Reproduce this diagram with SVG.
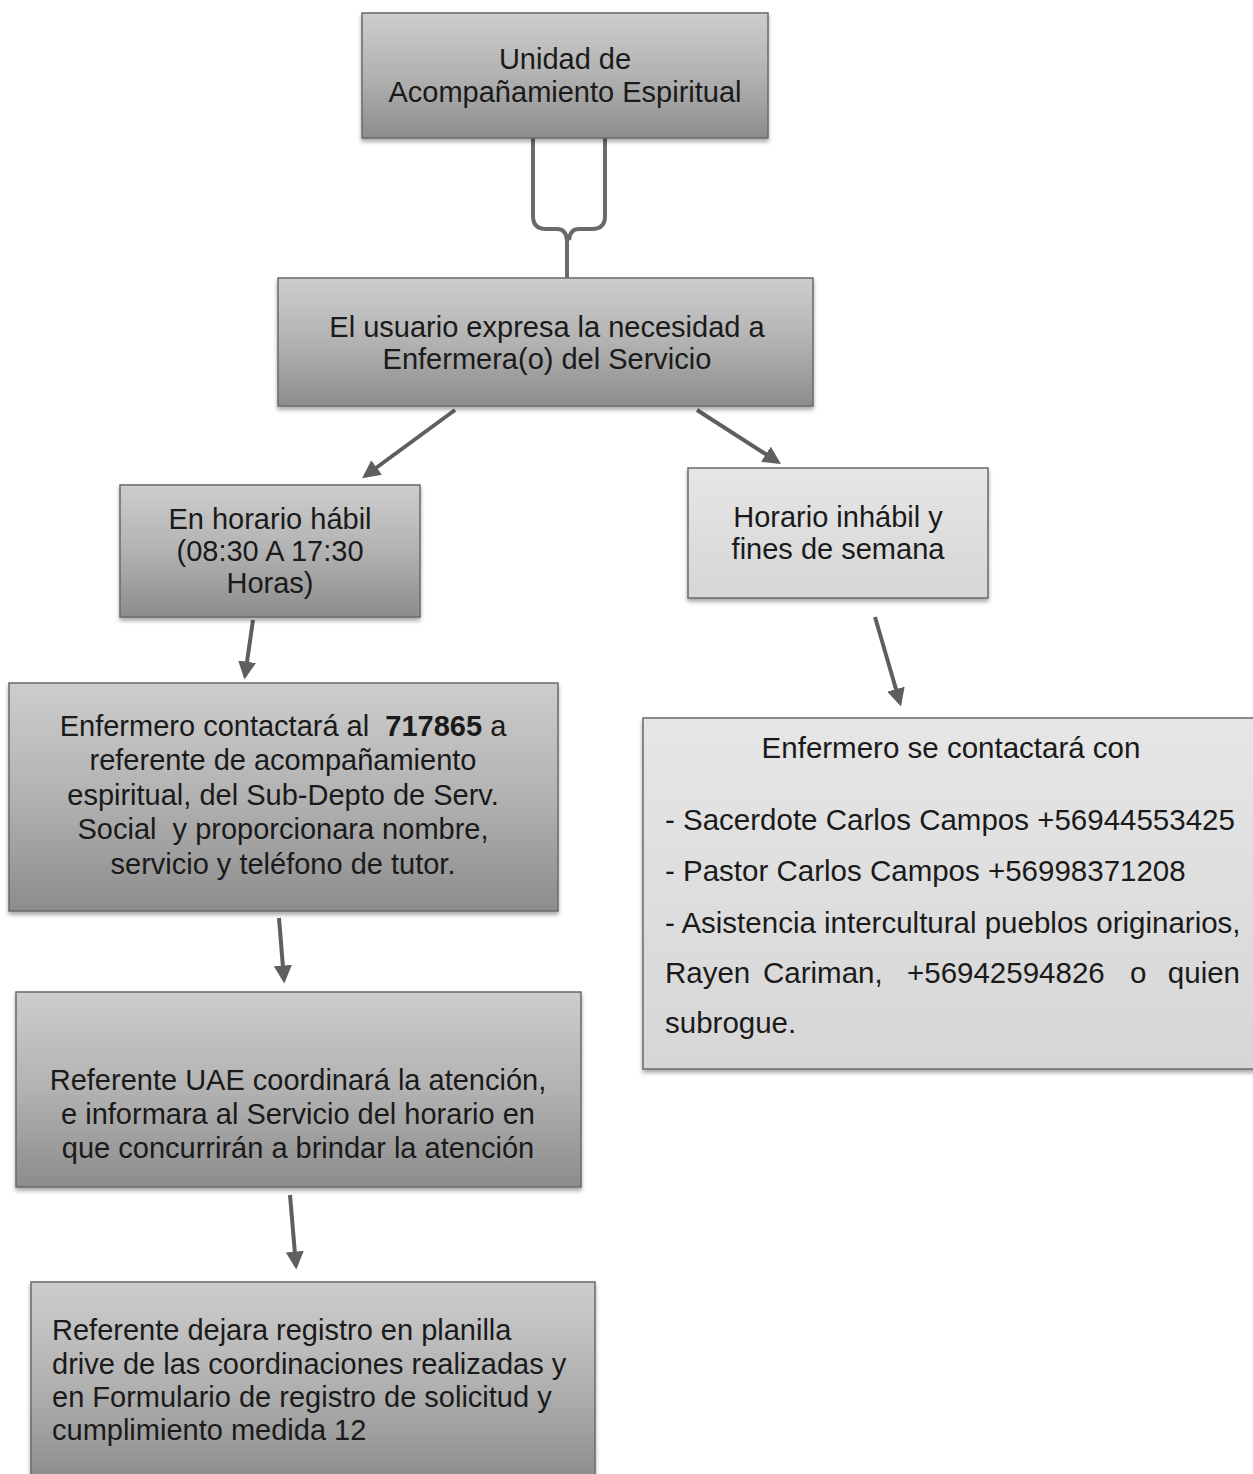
<svg xmlns="http://www.w3.org/2000/svg" width="1253" height="1474" viewBox="0 0 1253 1474">
<defs>
<linearGradient id="dark" x1="0" y1="0" x2="0" y2="1">
<stop offset="0" stop-color="#cdcdcd"/>
<stop offset="0.5" stop-color="#b2b2b2"/>
<stop offset="1" stop-color="#8c8c8c"/>
</linearGradient>
<linearGradient id="light" x1="0" y1="0" x2="0" y2="1">
<stop offset="0" stop-color="#e6e6e6"/>
<stop offset="1" stop-color="#d6d6d6"/>
</linearGradient>
<filter id="sh" x="-5%" y="-5%" width="110%" height="115%">
<feDropShadow dx="0" dy="3" stdDeviation="2" flood-color="#000" flood-opacity="0.35"/>
</filter>
<marker id="ah" viewBox="0 0 10 10" refX="8" refY="5" markerWidth="4.5" markerHeight="4.5" orient="auto" markerUnits="strokeWidth">
<path d="M0,0 L10,5 L0,10 Z" fill="#5f5f5f"/>
</marker>
<style>
.bd{fill:url(#dark);stroke:#6a6a6a;stroke-width:1.5;filter:url(#sh)}
.bl{fill:url(#light);stroke:#6a6a6a;stroke-width:1.5;filter:url(#sh)}
text{font-family:"Liberation Sans",Arial,sans-serif;font-size:29px;fill:#1a1a1a}
.c{text-anchor:middle}
.r{font-size:29.5px}
.e{stroke:#5f5f5f;stroke-width:4;fill:none;marker-end:url(#ah)}
.br{stroke:#6a6a6a;stroke-width:4;fill:none}
</style>
</defs>
<rect width="1253" height="1474" fill="#ffffff"/>
<g id="connectors">
<path class="br" d="M533,138 V216 Q533,229 546,229 H557 Q566,229 567,240 V278 M605,138 V216 Q605,229 592,229 H579 Q570,229 569,240"/>
<path class="e" d="M455,410 L365,476"/>
<path class="e" d="M697,410 L778,462"/>
<path class="e" d="M253,620 L245,676"/>
<path class="e" d="M875,617 L900,703"/>
<path class="e" d="M279,918 L284,980"/>
<path class="e" d="M290,1195 L296,1266"/>
</g>
<g id="n1">
<rect class="bd" x="362" y="13" width="406" height="125"/>
<text class="c" x="565" y="69">Unidad de</text>
<text class="c" x="565" y="102">Acompañamiento Espiritual</text>
</g>
<g id="n2">
<rect class="bd" x="278" y="278" width="535" height="128"/>
<text class="c" x="547" y="337">El usuario expresa la necesidad a</text>
<text class="c" x="547" y="369">Enfermera(o) del Servicio</text>
</g>
<g id="n3">
<rect class="bd" x="120" y="485" width="300" height="132"/>
<text class="c" x="270" y="529">En horario hábil</text>
<text class="c" x="270" y="561">(08:30 A 17:30</text>
<text class="c" x="270" y="593">Horas)</text>
</g>
<g id="n4">
<rect class="bl" x="688" y="468" width="300" height="130"/>
<text class="c" x="838" y="527">Horario inhábil y</text>
<text class="c" x="838" y="559">fines de semana</text>
</g>
<g id="n5">
<rect class="bd" x="9" y="683" width="549" height="228"/>
<text class="c" x="283" y="736">Enfermero contactará al&#160; <tspan font-weight="bold">717865</tspan> a</text>
<text class="c" x="283" y="770">referente de acompañamiento</text>
<text class="c" x="283" y="805">espiritual, del Sub-Depto de Serv.</text>
<text class="c" x="283" y="839">Social&#160; y proporcionara nombre,</text>
<text class="c" x="283" y="874">servicio y teléfono de tutor.</text>
</g>
<g id="n6">
<rect class="bl" x="643" y="718" width="615" height="351"/>
<text class="c r" x="951" y="758">Enfermero se contactará con</text>
<text class="r" x="665" y="830">- Sacerdote Carlos Campos +56944553425</text>
<text class="r" x="665" y="881">- Pastor Carlos Campos +56998371208</text>
<text class="r" x="665" y="933">- Asistencia intercultural pueblos originarios,</text>
<text class="r" y="983"><tspan x="665">Rayen</tspan><tspan x="763">Cariman,</tspan><tspan x="907">+56942594826</tspan><tspan x="1130">o</tspan></text>
<text class="r" x="1240" y="983" text-anchor="end">quien</text>
<text class="r" x="665" y="1033">subrogue.</text>
</g>
<g id="n7">
<rect class="bd" x="16" y="992" width="565" height="195"/>
<text class="c" x="298" y="1090">Referente UAE coordinará la atención,</text>
<text class="c" x="298" y="1124">e informara al Servicio del horario en</text>
<text class="c" x="298" y="1158">que concurrirán a brindar la atención</text>
</g>
<g id="n8">
<rect class="bd" x="31" y="1282" width="564" height="200"/>
<text x="52" y="1340">Referente dejara registro en planilla</text>
<text x="52" y="1374">drive de las coordinaciones realizadas y</text>
<text x="52" y="1407">en Formulario de registro de solicitud y</text>
<text x="52" y="1440">cumplimiento medida 12</text>
</g>
</svg>
